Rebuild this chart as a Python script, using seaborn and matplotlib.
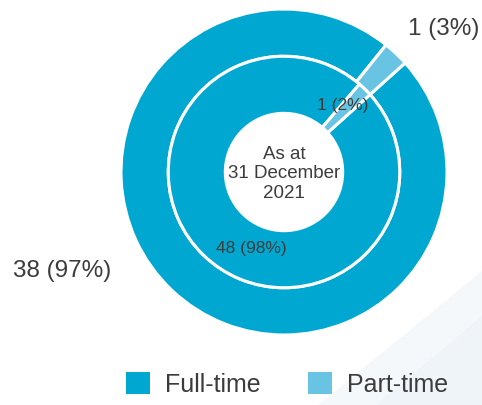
import matplotlib
matplotlib.use("Agg")
import matplotlib.pyplot as plt
from matplotlib.patches import Polygon, Patch
import seaborn as sns

# data ---------------------------------
categories = ["Full-time", "Part-time"]
outer_values = [38, 1]   # outer ring
inner_values = [48, 1]   # inner ring
outer_labels = ["38 (97%)", "1 (3%)"]
inner_labels = ["48 (98%)", "1 (2%)"]
centre_text = "As at\n31 December\n2021"

colors = ["#00A8D1", "#69C3E3"]
text_col = "#3c3c3c"

sns.set_theme(style="white")
plt.rcParams["font.family"] = ["Liberation Sans", "DejaVu Sans"]

fig = plt.figure(figsize=(4.82, 4.05), dpi=100)
fig.patch.set_facecolor("white")

# faint decorative background shapes, bottom right
for pts, col in [([(1.0, 0.33), (1.0, 0.0), (0.66, 0.0)], "#F5F8FB"),
                 ([(1.0, 0.22), (1.0, 0.0), (0.78, 0.0)], "#EFF4F9")]:
    fig.patches.append(Polygon(pts, closed=True, transform=fig.transFigure,
                               facecolor=col, edgecolor="none", zorder=0))

ax = fig.add_axes([0, 0, 1, 1])
ax.patch.set_alpha(0)

# outer ring
ax.pie(outer_values, colors=colors, radius=1.0, startangle=42, counterclock=False,
       wedgeprops=dict(width=0.29, edgecolor="white", linewidth=2.2))
# inner ring
ax.pie(inner_values, colors=colors, radius=0.71, startangle=42, counterclock=False,
       wedgeprops=dict(width=0.35, edgecolor="white", linewidth=2.2))

ax.set_xlim(-284 / 163, 198 / 163)
ax.set_ylim(-233 / 163, 172 / 163)
ax.set_aspect("auto")
ax.axis("off")

# labels
ax.text(-1.36, -0.61, outer_labels[0], ha="center", va="center", fontsize=17.5, color=text_col)
ax.text(0.98, 0.88, outer_labels[1], ha="center", va="center", fontsize=17.5, color=text_col)
ax.text(-0.2, -0.47, inner_labels[0], ha="center", va="center", fontsize=12.5, color=text_col)
ax.text(0.36, 0.41, inner_labels[1], ha="center", va="center", fontsize=12.5, color=text_col)
ax.text(0, -0.01, centre_text, ha="center", va="center", fontsize=13.5, color=text_col,
        linespacing=1.2)

handles = [Patch(facecolor=c, edgecolor="none") for c in colors]
fig.legend(handles, categories, loc="lower center", bbox_to_anchor=(0.595, -0.035), ncol=2,
           frameon=False, fontsize=18, handlelength=0.95, handleheight=1.0,
           handletextpad=0.6, columnspacing=1.9, labelcolor=text_col)

fig.savefig("out.png", dpi=100)
